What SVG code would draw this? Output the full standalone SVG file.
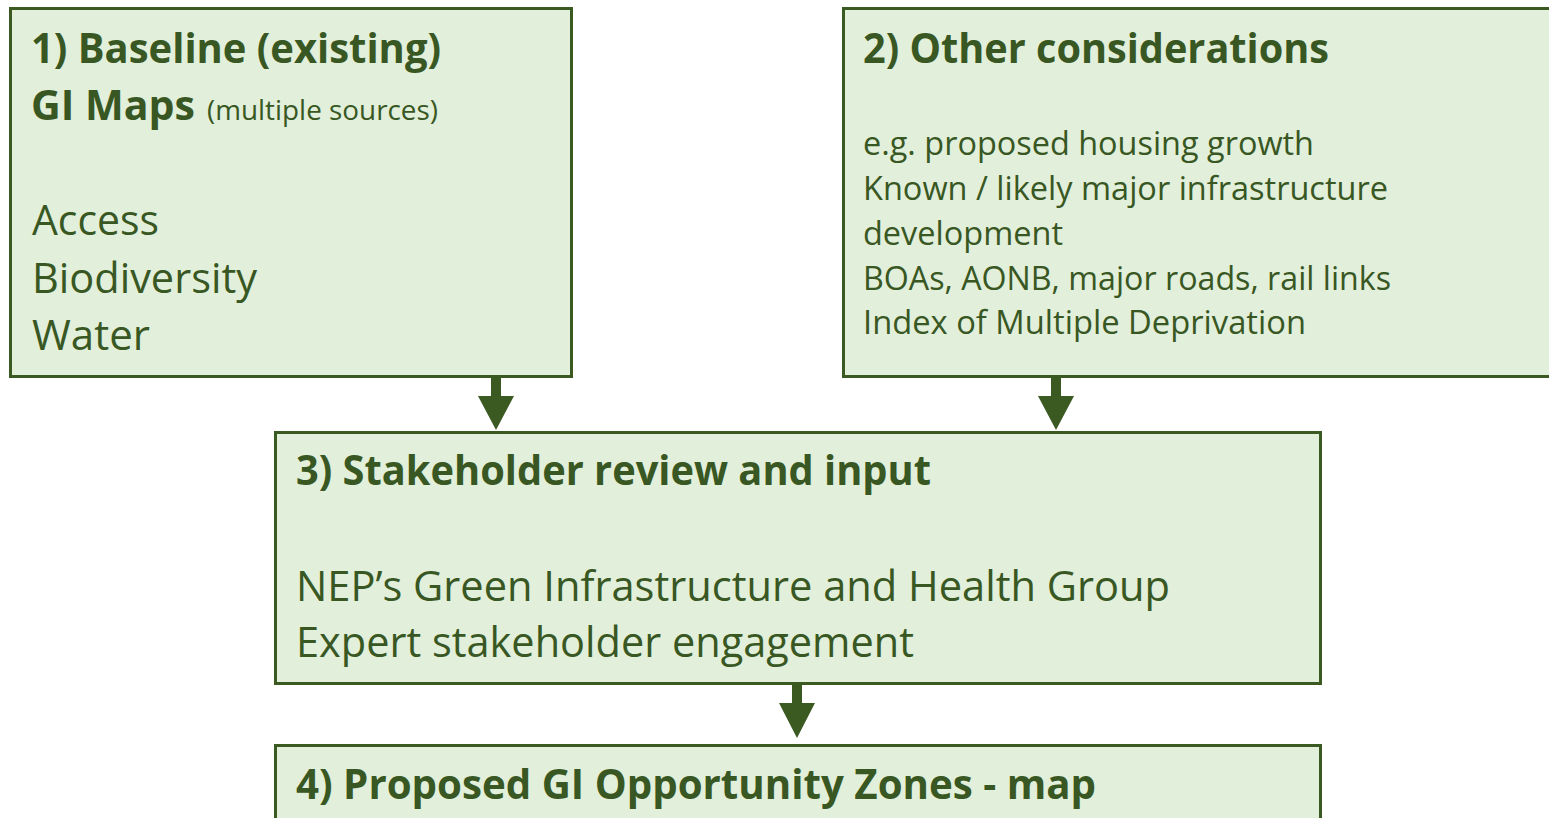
<svg xmlns="http://www.w3.org/2000/svg" width="1549" height="818" viewBox="0 0 1549 818">
<style>
.box{fill:#E2EFDA;stroke:#3A5A22;stroke-width:3}
.t{font-family:"Open Sans","Noto Sans",sans-serif;fill:#385723}
.h{font-weight:bold;font-size:42px}
.b1{font-size:42px}
.b2{font-size:33px}
.sm{font-size:28px}
.arrow{fill:#3A5A22}
</style>
<rect width="1549" height="818" fill="#FFFFFF"/>
<g id="node1">
<rect class="box" x="10.5" y="8.5" width="561" height="368"/>
<text class="t h" x="31" y="63" textLength="410" lengthAdjust="spacingAndGlyphs">1) Baseline (existing)</text>
<text class="t h" x="31" y="120" textLength="164" lengthAdjust="spacingAndGlyphs">GI Maps</text>
<text class="t sm" x="207" y="120" textLength="231" lengthAdjust="spacingAndGlyphs">(multiple sources)</text>
<text class="t b1" x="32" y="235" textLength="127" lengthAdjust="spacingAndGlyphs">Access</text>
<text class="t b1" x="32" y="293" textLength="225" lengthAdjust="spacingAndGlyphs">Biodiversity</text>
<text class="t b1" x="32" y="350" textLength="118" lengthAdjust="spacingAndGlyphs">Water</text>
</g>
<g id="node2">
<rect class="box" x="843.5" y="8.5" width="720" height="368"/>
<text class="t h" x="863" y="63" textLength="466" lengthAdjust="spacingAndGlyphs">2) Other considerations</text>
<text class="t b2" x="863" y="155" textLength="451" lengthAdjust="spacingAndGlyphs">e.g. proposed housing growth</text>
<text class="t b2" x="863" y="200" textLength="525" lengthAdjust="spacingAndGlyphs">Known / likely major infrastructure</text>
<text class="t b2" x="863" y="245" textLength="200" lengthAdjust="spacingAndGlyphs">development</text>
<text class="t b2" x="863" y="290" textLength="528" lengthAdjust="spacingAndGlyphs">BOAs, AONB, major roads, rail links</text>
<text class="t b2" x="863" y="334" textLength="443" lengthAdjust="spacingAndGlyphs">Index of Multiple Deprivation</text>
</g>
<g id="node3">
<rect class="box" x="275.5" y="432.5" width="1045" height="251"/>
<text class="t h" x="296" y="485" textLength="635" lengthAdjust="spacingAndGlyphs">3) Stakeholder review and input</text>
<text class="t b1" x="296" y="601" textLength="874" lengthAdjust="spacingAndGlyphs">NEP’s Green Infrastructure and Health Group</text>
<text class="t b1" x="296" y="657" textLength="618" lengthAdjust="spacingAndGlyphs">Expert stakeholder engagement</text>
</g>
<g id="node4">
<rect class="box" x="275.5" y="745.5" width="1045" height="90"/>
<text class="t h" x="296" y="799" textLength="800" lengthAdjust="spacingAndGlyphs">4) Proposed GI Opportunity Zones - map</text>
</g>
<g id="connectors">
<path class="arrow" d="M491,377 H501 V396 H514 L496,430 L478,396 H491 Z"/>
<path class="arrow" d="M1051,377 H1061 V396 H1074 L1056,430 L1038,396 H1051 Z"/>
<path class="arrow" d="M792,684 H802 V703 H815 L797,738 L779,703 H792 Z"/>
</g>
</svg>
